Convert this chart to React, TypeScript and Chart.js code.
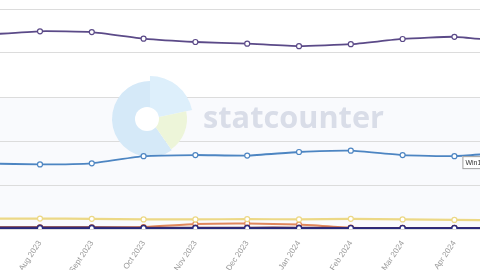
import React, { useEffect, useRef } from "react";
import { Chart, registerables } from "chart.js";
Chart.register(...registerables);

const months = ["July 2023", "Aug 2023", "Sept 2023", "Oct 2023", "Nov 2023", "Dec 2023", "Jan 2024", "Feb 2024", "Mar 2024", "Apr 2024", "May 2024"];
const win10 = [70.7, 71.9, 71.6, 69.2, 68.0, 67.4, 66.5, 67.2, 69.1, 69.9, 68.2];
const win11 = [23.8, 23.5, 23.9, 26.5, 26.9, 26.7, 28.0, 28.5, 26.9, 26.5, 27.8];
const win7 = [3.8, 3.8, 3.7, 3.5, 3.5, 3.6, 3.5, 3.7, 3.5, 3.3, 3.2];
const other = [0.5, 0.5, 0.5, 0.7, 1.8, 2.0, 1.6, 0.5, 0.4, 0.4, 0.4];
const win81 = [0.6, 0.6, 0.6, 0.5, 0.5, 0.5, 0.5, 0.4, 0.4, 0.4, 0.4];
const winxp = [0.3, 0.3, 0.3, 0.3, 0.3, 0.3, 0.3, 0.3, 0.3, 0.3, 0.3];
const yTicks = [0, 16, 32, 48, 64, 80];

const mk = (label: string, arr: number[], color: string, width: number) => ({
  label,
  data: arr.map((y, i) => ({ x: i, y })),
  borderColor: color,
  backgroundColor: "#ffffff",
  borderWidth: width,
  pointRadius: 2.5,
  pointBorderWidth: 1.2,
  pointBackgroundColor: "#ffffff",
  pointBorderColor: color,
  tension: 0.15,
});

export default function App() {
  const ref = useRef<HTMLCanvasElement>(null);
  useEffect(() => {
    const deco = {
      id: "deco",
      beforeDraw(chart: any) {
        const { ctx, chartArea } = chart;
        const yS = chart.scales.y;
        const top = yS.getPixelForValue(48);
        ctx.save();
        ctx.fillStyle = "#f9fafd";
        ctx.fillRect(0, top, 480, chartArea.bottom - top);
        ctx.restore();
      },
      beforeDatasetsDraw(chart: any) {
        const ctx = chart.ctx;
        ctx.save();
        const cx = 150, cy = 119;
        const d = (a: number) => (a * Math.PI) / 180;
        ctx.fillStyle = "#d5e9f8";
        ctx.beginPath();
        ctx.moveTo(cx, cy);
        ctx.arc(cx, cy, 38, d(55), d(270));
        ctx.closePath();
        ctx.fill();
        ctx.fillStyle = "#ddeffb";
        ctx.beginPath();
        ctx.moveTo(cx, cy);
        ctx.arc(cx, cy, 43, d(-90), d(-12));
        ctx.closePath();
        ctx.fill();
        ctx.fillStyle = "#edf5d9";
        ctx.beginPath();
        ctx.moveTo(cx, cy);
        ctx.arc(cx, cy, 37, d(-12), d(55));
        ctx.closePath();
        ctx.fill();
        ctx.fillStyle = "#ffffff";
        ctx.beginPath();
        ctx.arc(147, 119, 12, 0, Math.PI * 2);
        ctx.fill();
        ctx.fillStyle = "#d9dde8";
        ctx.font = "bold 31px 'Open Sans', 'Liberation Sans', sans-serif";
        ctx.textBaseline = "alphabetic";
        const t = "statcounter";
        const w = ctx.measureText(t).width;
        ctx.save();
        ctx.translate(203, 128);
        ctx.scale(181 / w, 1);
        ctx.fillText(t, 0, 0);
        ctx.restore();
        ctx.restore();
      },
      afterDraw(chart: any) {
        const ctx = chart.ctx;
        const px = chart.scales.x.getPixelForValue(9);
        const py = chart.scales.y.getPixelForValue(win11[9]);
        ctx.save();
        ctx.fillStyle = "rgba(255,255,255,0.95)";
        ctx.strokeStyle = "#a0a0a0";
        ctx.lineWidth = 1;
        ctx.fillRect(px + 8, py, 40, 13);
        ctx.strokeRect(px + 8.5, py + 0.5, 40, 12);
        ctx.fillStyle = "#333333";
        ctx.font = "7px 'Liberation Sans', sans-serif";
        ctx.textBaseline = "middle";
        ctx.fillText("Win11", px + 11, py + 7);
        ctx.restore();
      },
    };

    const chart = new Chart(ref.current!, {
      type: "line",
      data: {
        datasets: [
          mk("Win10", win10, "#5b4a88", 1.8),
          mk("Win11", win11, "#4d85c2", 1.8),
          mk("Win7", win7, "#ecd886", 2.2),
          mk("WinXP", winxp, "#262a80", 2),
          mk("Win8.1", win81, "#6a2f40", 2),
          mk("Other", other, "#e0875c", 2),
        ],
      },
      options: {
        animation: false,
        responsive: true,
        maintainAspectRatio: false,
        layout: { autoPadding: false, padding: { top: 9, left: 0, right: 0, bottom: 0 } },
        plugins: { legend: { display: false }, tooltip: { enabled: false } },
        scales: {
          x: {
            type: "linear",
            min: 0.228,
            max: 9.494,
            grid: { display: false },
            border: { display: false },
            afterBuildTicks: (s: any) => {
              s.ticks = months.map((_, i) => ({ value: i })).filter((t) => t.value >= s.min && t.value <= s.max);
            },
            afterFit: (s: any) => {
              s.height = 41;
              s.paddingLeft = 0;
              s.paddingRight = 0;
            },
            ticks: {
              autoSkip: false,
              minRotation: 56,
              maxRotation: 56,
              padding: 2,
              color: "#9a9a9a",
              font: { family: "'Liberation Sans', sans-serif", size: 8 },
              callback: (v: any) => months[Math.round(v)] ?? "",
            },
          },
          y: {
            min: 0,
            max: 80,
            afterBuildTicks: (s: any) => {
              s.ticks = yTicks.map((v) => ({ value: v }));
            },
            afterFit: (s: any) => {
              s.width = 0;
              s.paddingTop = 0;
              s.paddingBottom = 0;
            },
            ticks: { display: false },
            grid: { color: "#dcdcdc", lineWidth: 1, drawTicks: false },
            border: { display: false },
          },
        },
      },
      plugins: [deco],
    });
    return () => chart.destroy();
  }, []);
  return (
    <div style={{ position: "fixed", left: 0, top: 0, width: 480, height: 270, background: "#ffffff" }}>
      <canvas ref={ref} />
    </div>
  );
}
